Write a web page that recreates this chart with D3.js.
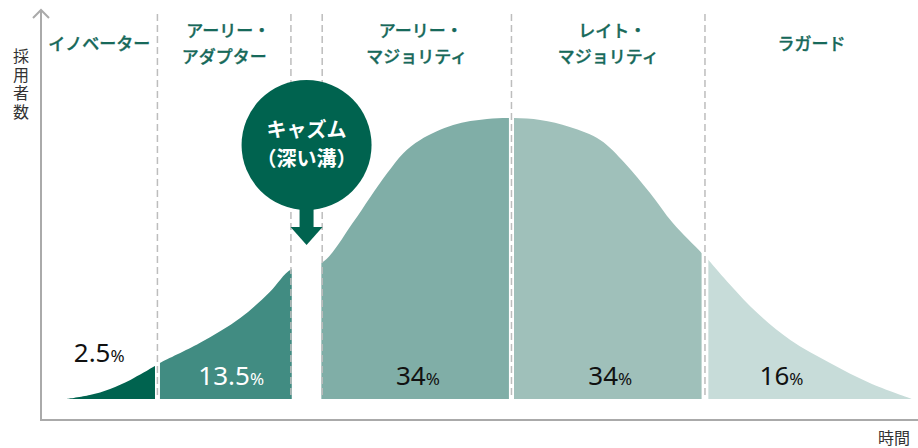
<!DOCTYPE html>
<html>
<head>
<meta charset="utf-8">
<script src="https://cdn.jsdelivr.net/npm/d3@7"></script>
<style>
  body { margin: 0; background: #fff; }
  svg { display: block; font-family: "Noto Sans CJK JP", "Noto Sans", sans-serif; }
</style>
</head>
<body>
<div id="chart"></div>
<script>
// adoption curve (time 0-100, adopters 0-100 = peak)
var curveT = [0, 2.7, 5.1, 7.5, 10.4, 11.0, 15.7, 20.5, 24.0, 26.6,
              30.1, 33.8, 35.9, 37.9, 39.8, 41.8, 45.7, 49.7, 52.5, 56.0, 59.5, 63.1,
              66.0, 69.0, 71.7, 75.1, 75.9, 78.5, 81.7, 85.6, 90.3, 95.0, 100];
var curveH = [0, 1.4, 3.6, 6.8, 11.7, 12.8, 19.9, 28.8, 38.1, 46.3,
              48.4, 62.6, 71.9, 80.4, 87.5, 92.2, 97.5, 99.6, 100, 99.3, 96.8, 92.2,
              84.0, 73.3, 62.6, 52.0, 49.5, 40.6, 30.6, 21.0, 12.8, 5.7, 0];

// groups
var segNames = [['イノベーター'], ['アーリー・', 'アダプター'], ['アーリー・', 'マジョリティ'],
                ['レイト・', 'マジョリティ'], ['ラガード']];
var segShares = ['2.5', '13.5', '34', '34', '16'];
var segStart = [0, 11.0, 30.1, 52.9, 75.9];
var segEnd = [10.4, 26.6, 52.3, 75.1, 100];
var dividers = [10.7, 26.5, 30.2, 52.6, 75.5]; // 2nd & 3rd = chasm edges
var chasmText = ['キャズム', '（深い溝）'];

var colors = ['#00634f', '#418c82', '#80aea7', '#9fc0ba', '#c7dcd9'];
var shareColors = ['#111', '#fff', '#111', '#111', '#111'];
var teal = '#17695a';

var width = 918, height = 448;

var svg = d3.select('#chart').append('svg')
    .attr('width', width)
    .attr('height', height);

var x = d3.scaleLinear().domain([0, 100]).range([67, 912]);
var y = d3.scaleLinear().domain([0, 100]).range([399, 118]);

var pts = curveT.map(function(t, i) { return [t, curveH[i]]; });

var area = d3.area()
    .x(function(d) { return x(d[0]); })
    .y0(y(0))
    .y1(function(d) { return y(d[1]); })
    .curve(d3.curveCatmullRom.alpha(0.5));

//__ segments, each one clipped out of the full curve
var defs = svg.append('defs');
segStart.forEach(function(s, i) {
    defs.append('clipPath').attr('id', 'seg' + i)
        .append('rect')
        .attr('x', x(s))
        .attr('y', 0)
        .attr('width', x(segEnd[i]) - x(s))
        .attr('height', height);
});

svg.append('g').attr('class', 'segments')
    .selectAll('path')
    .data(segStart)
    .enter().append('path')
    .attr('d', area(pts))
    .attr('clip-path', function(d, i) { return 'url(#seg' + i + ')'; })
    .attr('fill', function(d, i) { return colors[i]; });

//__ dashed dividers
svg.append('g').attr('class', 'dividers')
    .selectAll('line')
    .data(dividers)
    .enter().append('line')
    .attr('x1', function(d) { return x(d); })
    .attr('x2', function(d) { return x(d); })
    .attr('y1', 14)
    .attr('y2', y(0))
    .attr('stroke', '#bdbdbd')
    .attr('stroke-width', 1.5)
    .attr('stroke-dasharray', '7,4');

//__ axes
var axis = svg.append('g').attr('class', 'axes')
    .attr('fill', 'none')
    .attr('stroke', '#aaa')
    .attr('stroke-width', 2);
axis.append('path').attr('d', 'M41,10 L41,420 L918,420');
axis.append('path').attr('d', 'M33,18 L41,10 L49,18');

svg.append('text')
    .attr('x', 894).attr('y', 444)
    .attr('text-anchor', 'middle')
    .attr('font-size', 16)
    .attr('fill', '#333')
    .text('時間');

// vertical y label
svg.append('text')
    .attr('x', 21)
    .attr('y', 48)
    .attr('font-size', 16)
    .attr('fill', '#333')
    .style('writing-mode', 'vertical-rl')
    .style('letter-spacing', '2.5px')
    .text('採用者数');

//__ column labels (chasm column skipped)
var colL = [41, x(dividers[0]), x(dividers[2]), x(dividers[3]), x(dividers[4])];
var colR = [x(dividers[0]), x(dividers[1]), x(dividers[3]), x(dividers[4]), width];
var colMid = colL.map(function(l, i) { return (l + colR[i]) / 2; });

var names = svg.append('g').attr('class', 'names')
    .selectAll('text')
    .data(segNames)
    .enter().append('text')
    .attr('text-anchor', 'middle')
    .attr('font-size', 17)
    .attr('font-weight', 500)
    .attr('stroke', teal)
    .attr('stroke-width', 0.35)
    .attr('fill', teal);
names.each(function(d, i) {
    var t = d3.select(this);
    var y0 = d.length == 1 ? 50 : 37;
    d.forEach(function(line, j) {
        t.append('tspan')
            .attr('x', colMid[i] + (line.slice(-1) == '・' ? 4 : 0))
            .attr('y', y0 + j * 26)
            .text(line);
    });
});

//__ shares
var shareDx = [0, 7, 1, 2, -30];
var shareY = [362, 385, 385, 385, 385];
var shares = svg.append('g').attr('class', 'shares')
    .selectAll('text')
    .data(segShares)
    .enter().append('text')
    .attr('x', function(d, i) { return colMid[i] + shareDx[i]; })
    .attr('y', function(d, i) { return shareY[i]; })
    .attr('text-anchor', 'middle')
    .attr('font-family', '"Noto Sans", sans-serif')
    .attr('fill', function(d, i) { return shareColors[i]; });
shares.append('tspan').attr('font-size', 26).text(function(d) { return d; });
shares.append('tspan').attr('font-size', 17).text('%');

//__ chasm badge
var cx = (x(dividers[1]) + x(dividers[2])) / 2, cy = 145, r = 65;
var badge = svg.append('g').attr('class', 'chasm').attr('fill', colors[0]);
badge.append('circle').attr('cx', cx).attr('cy', cy).attr('r', r);
badge.append('rect').attr('x', cx - 7).attr('y', cy + r - 6).attr('width', 14).attr('height', 24);
badge.append('path')
    .attr('d', 'M' + (cx - 16) + ',' + (cy + r + 17) + ' L' + (cx + 16) + ',' + (cy + r + 17) +
               ' L' + cx + ',' + (cy + r + 35) + 'Z');
badge.append('text')
    .attr('text-anchor', 'middle')
    .attr('fill', '#fff')
    .attr('font-size', 20)
    .attr('font-weight', 700)
    .selectAll('tspan')
    .data(chasmText)
    .enter().append('tspan')
    .attr('x', cx)
    .attr('y', function(d, i) { return cy - 8 + i * 29; })
    .text(function(d) { return d; });
</script>
</body>
</html>
